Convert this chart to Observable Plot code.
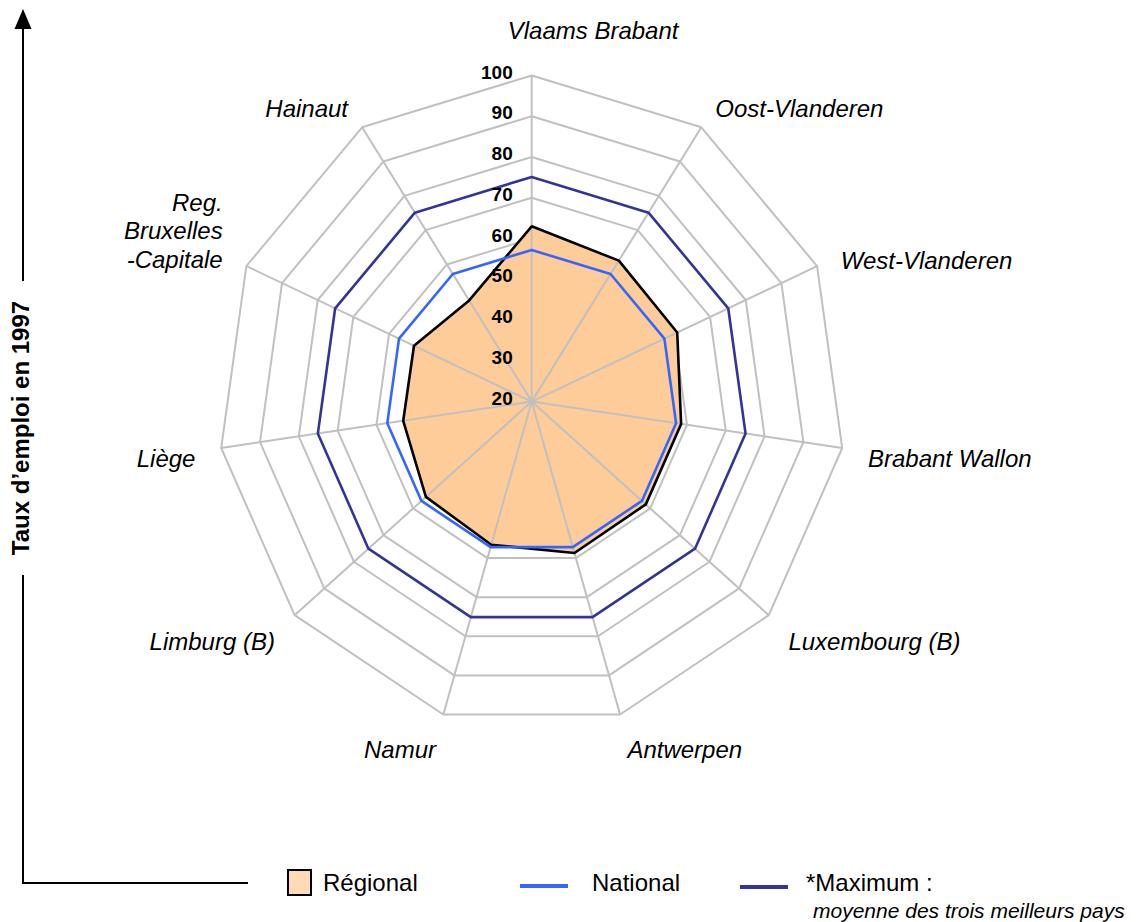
<!DOCTYPE html>
<html>
<head>
<meta charset="utf-8">
<script src="https://cdn.jsdelivr.net/npm/d3@7"></script>
<script src="https://cdn.jsdelivr.net/npm/@observablehq/plot@0.6"></script>
<style>
  html, body { margin: 0; padding: 0; background: #fff; }
  #wrap { position: relative; width: 1140px; height: 922px; overflow: hidden; font-family: "Liberation Sans", Arial, sans-serif; }
  #chart { position: absolute; left: 0; top: 0; }
  #frame { position: absolute; left: 0; top: 0; }
  .ytitle { position: absolute; left: 21px; top: 428px; transform: translate(-50%, -50%) rotate(-90deg); white-space: nowrap; font-weight: bold; font-size: 24px; color: #000; }
  .leg { position: absolute; font-size: 24px; color: #000; white-space: nowrap; line-height: 1; }
  .sw { position: absolute; }
</style>
</head>
<body>
<div id="wrap">
  <div id="chart"></div>
  <svg id="frame" width="1140" height="922">
    <line x1="23" y1="26" x2="23" y2="281" stroke="#000" stroke-width="2"/>
    <polygon points="23,9 14.5,29 31.5,29" fill="#000"/>
    <line x1="23" y1="575" x2="23" y2="884" stroke="#000" stroke-width="2"/>
    <line x1="22" y1="883" x2="248" y2="883" stroke="#000" stroke-width="2"/>
  </svg>
  <div class="ytitle">Taux d’emploi en 1997</div>
  <div class="sw" style="left:287px; top:869px; width:21px; height:23px; background:#FFDAB5; border:2px solid #000;"></div>
  <div class="leg" style="left:323px; top:871px;">Régional</div>
  <div class="sw" style="left:520px; top:884px; width:48px; height:4px; background:#3366FF;"></div>
  <div class="leg" style="left:592px; top:871px;">National</div>
  <div class="sw" style="left:740px; top:885px; width:48px; height:4px; background:#333399;"></div>
  <div class="leg" style="left:806px; top:871px;">*Maximum :</div>
  <div class="leg" style="left:813px; top:900px; font-size:21px; font-style:italic;">moyenne des trois meilleurs pays</div>
</div>
<script>
// ---- data ----
const regions = ["Vlaams Brabant", "Oost-Vlanderen", "West-Vlanderen", "Brabant Wallon", "Luxembourg (B)", "Antwerpen", "Namur", "Limburg (B)", "Liège", "Reg.\nBruxelles\n-Capitale", "Hainaut"];
const regional = [63.0, 61.1, 60.8, 58.5, 58.5, 58.7, 56.6, 55.7, 53.1, 53.0, 49.5];
const national = [57.2, 57.2, 57.2, 57.2, 57.2, 57.2, 57.2, 57.2, 57.2, 57.2, 57.2];
const maximum = [75.1, 75.1, 75.1, 75.1, 75.1, 75.1, 75.1, 75.1, 75.1, 75.1, 75.1];
const gridValues = [60, 70, 80, 90, 100];
const tickValues = [20, 30, 40, 50, 60, 70, 80, 90, 100];
const rMin = 20, rMax = 100;

// ---- polar helpers ----
const n = regions.length;
const ang = i => (2 * Math.PI * i) / n;
const pt = (v, i) => ({ x: (v - rMin) * Math.sin(ang(i)), y: (v - rMin) * Math.cos(ang(i)), i });
const series = vals => vals.map((v, i) => pt(v, i));

const ringPts = gridValues.flatMap(g => regions.map((_, i) => ({ ...pt(g, i), ring: g })));
const regPts = series(regional);
const natPts = series(national);
const maxPts = series(maximum);
const spokes = regions.map((name, i) => ({ name, i, ...pt(rMax, i) }));

const gridColor = "#C0C0C0";
const labelFont = "Liberation Sans, Arial, sans-serif";

// category labels: one text mark per label, offset outward from the outer vertex
const labelMarks = spokes.map(s => {
  const sn = Math.sin(ang(s.i)), cs = Math.cos(ang(s.i));
  const multi = s.name.includes("\n");
  let anchor = sn > 0.2 ? "start" : sn < -0.2 ? "end" : "start";
  let dx = 26 * sn, dy = -30 * cs + 6;
  if (Math.abs(sn) <= 0.2 && cs > 0) { dx = -24; dy = -46; }
  if (multi) { dy = 2; }
  return Plot.text([s], {
    x: "x", y: "y", text: "name",
    textAnchor: anchor, lineAnchor: multi ? "bottom" : "middle", lineHeight: 1.2,
    dx, dy, fontSize: 24, fontStyle: "italic", fontFamily: labelFont, fill: "#000"
  });
});

const chart = Plot.plot({
  width: 1140,
  height: 860,
  margin: 0,
  style: { background: "transparent", fontFamily: labelFont, overflow: "visible" },
  x: { domain: [-80, 80], range: [217.5, 844.9], axis: null },
  y: { domain: [-80, 80], range: [727.2, 75.0], axis: null },
  marks: [
    Plot.line(ringPts, { x: "x", y: "y", z: "ring", curve: "linear-closed", stroke: gridColor, strokeWidth: 2, strokeLinejoin: "miter" }),
    Plot.line(regPts, { x: "x", y: "y", curve: "linear-closed", fill: "#FECC99", stroke: "none" }),
    Plot.link(spokes, { x1: () => 0, y1: () => 0, x2: "x", y2: "y", stroke: gridColor, strokeWidth: 2 }),
    Plot.line(regPts, { x: "x", y: "y", curve: "linear-closed", stroke: "#000", strokeWidth: 2.6, strokeLinejoin: "miter" }),
    Plot.line(natPts, { x: "x", y: "y", curve: "linear-closed", stroke: "#3366FF", strokeWidth: 2.6, strokeLinejoin: "miter" }),
    Plot.line(maxPts, { x: "x", y: "y", curve: "linear-closed", stroke: "#333399", strokeWidth: 2.6, strokeLinejoin: "miter" }),
    Plot.text(tickValues, {
      x: () => 0, y: d => d - rMin, text: d => String(d),
      textAnchor: "end", dx: -19, dy: -3,
      fontSize: 19, fontWeight: "bold", fontFamily: "Liberation Sans Narrow, Arial Narrow, Liberation Sans, sans-serif",
      fill: "#000"
    }),
    ...labelMarks
  ]
});
document.getElementById("chart").appendChild(chart);
</script>
</body>
</html>
